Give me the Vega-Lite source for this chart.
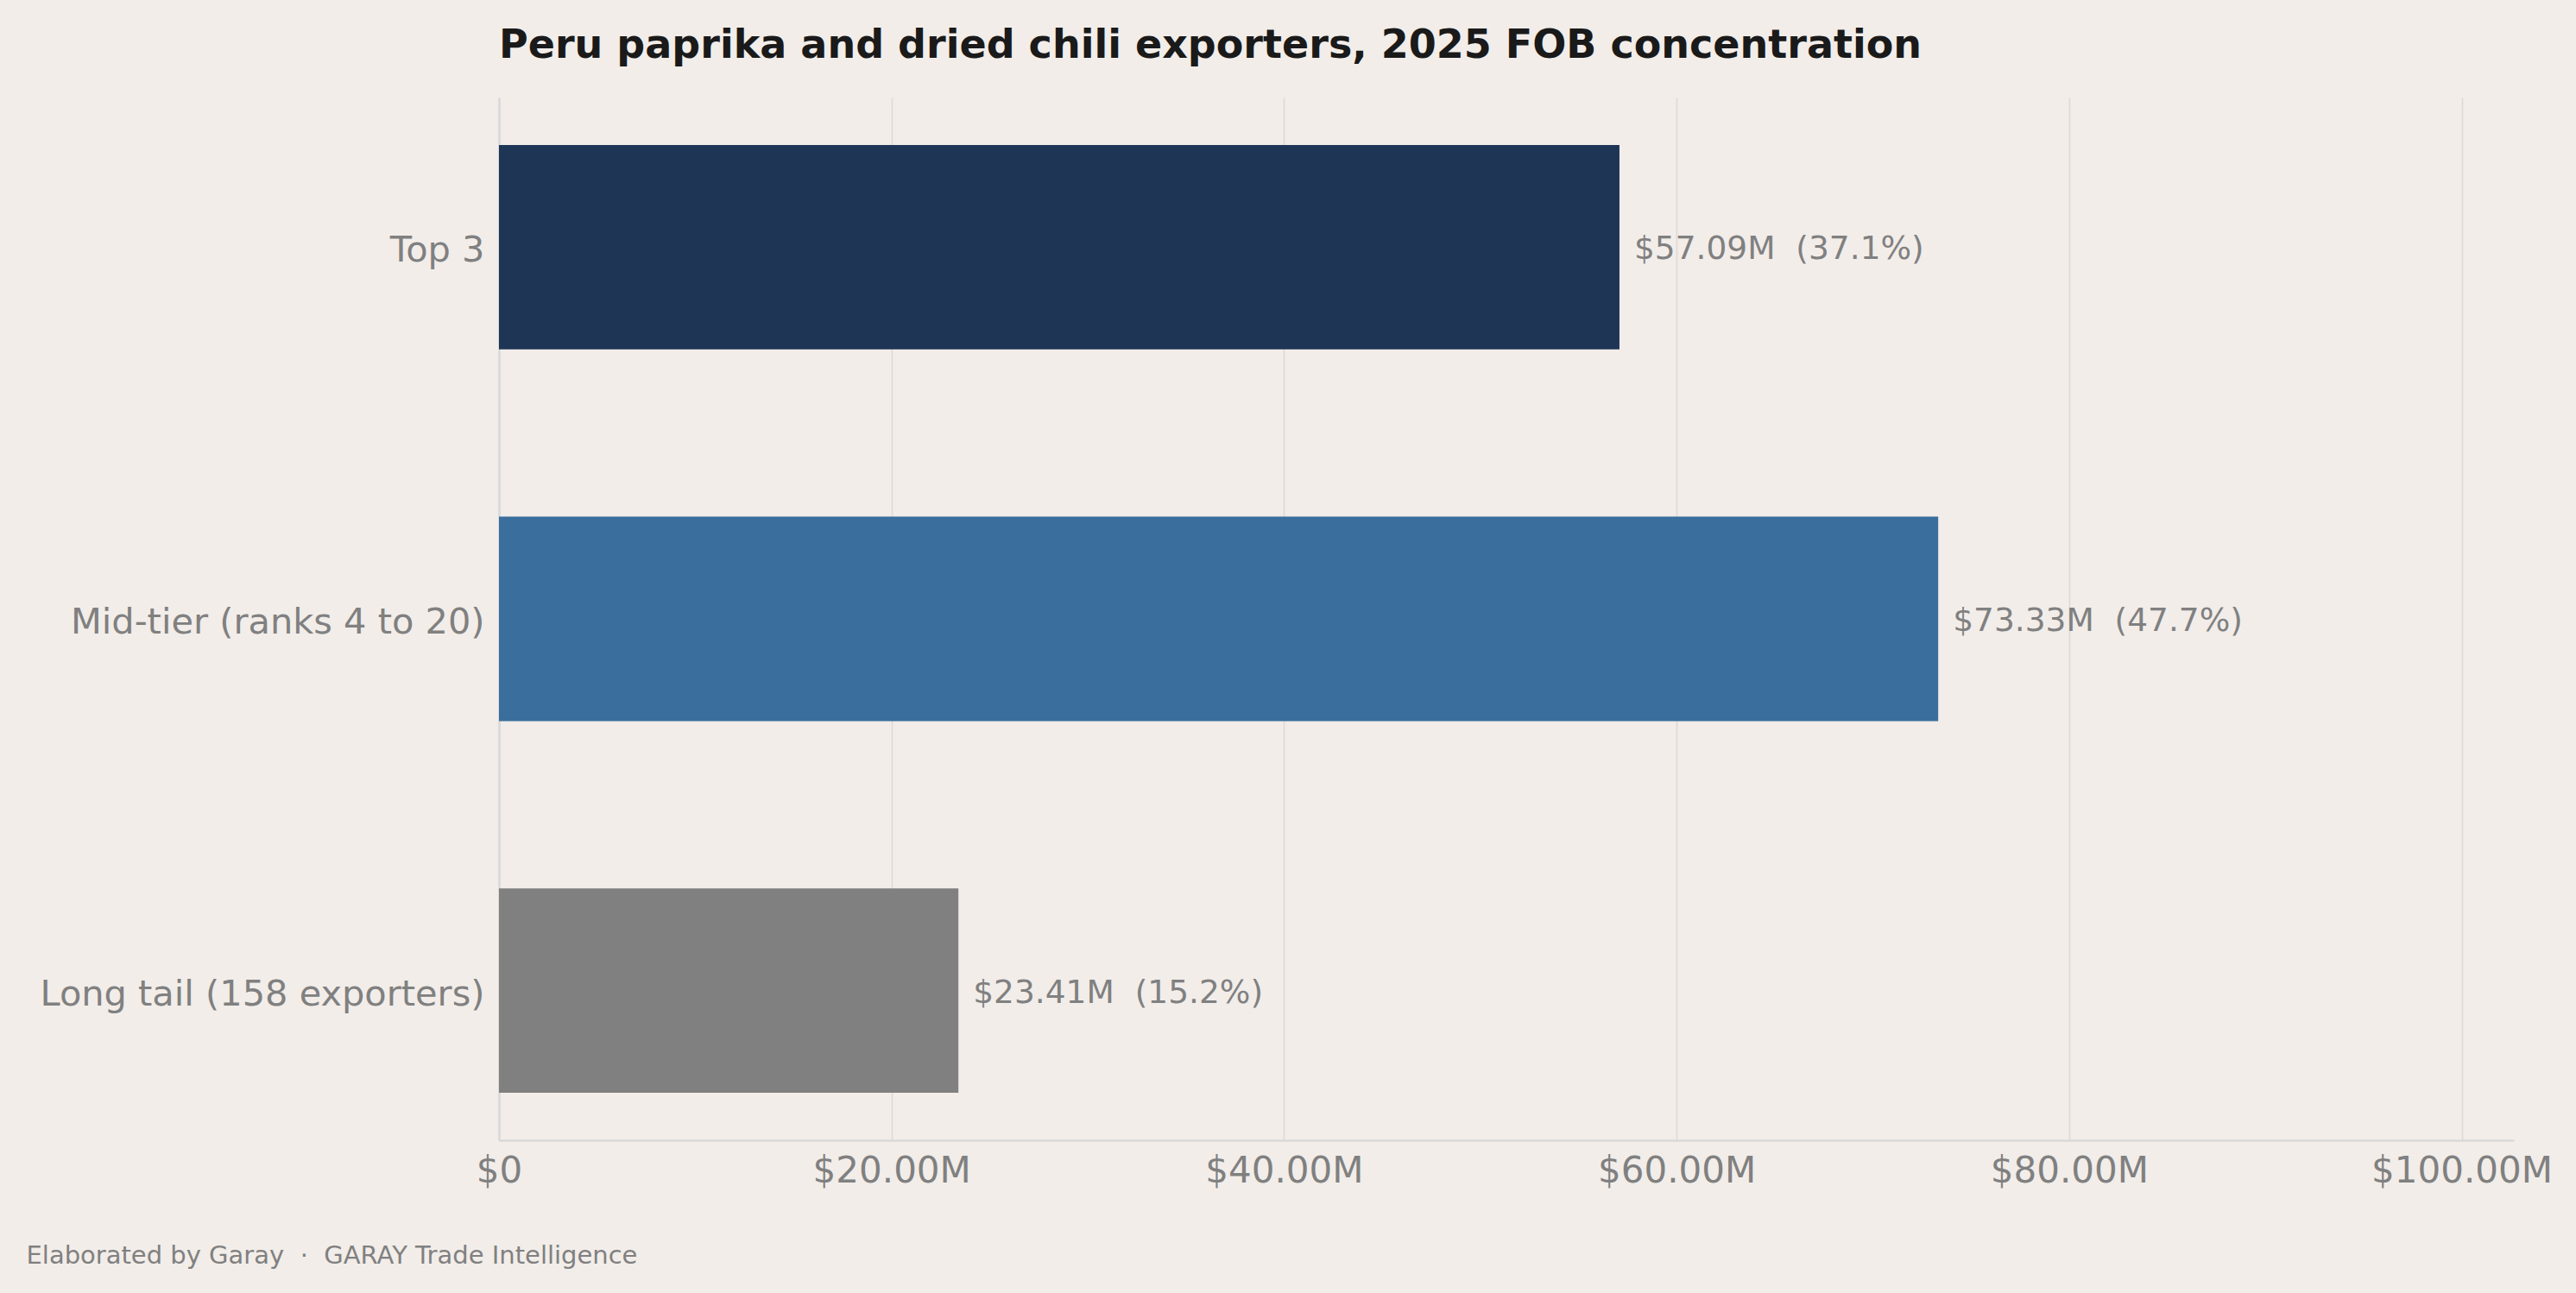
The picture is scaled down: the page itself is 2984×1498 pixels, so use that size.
{
  "$schema": "https://vega.github.io/schema/vega-lite/v6.json",
  "autosize": {"type": "none"},
  "padding": {"left": 578, "top": 113, "right": 72, "bottom": 177},
  "width": 2334,
  "height": 1208,
  "background": "#f2ede9",
  "title": {
    "text": "Peru paprika and dried chili exporters, 2025 FOB concentration",
    "anchor": "start",
    "frame": "group",
    "baseline": "alphabetic",
    "offset": 0,
    "font": "DejaVu Sans",
    "fontSize": 46,
    "fontWeight": "bold",
    "color": "#1a1a1a",
    "limit": 0
  },
  "data": {
    "values": [
      {"segment": "Top 3", "fob": 57.09, "share": 37.1, "label": "$57.09M \u00a0(37.1%)"},
      {"segment": "Mid-tier (ranks 4 to 20)", "fob": 73.33, "share": 47.7, "label": "$73.33M \u00a0(47.7%)"},
      {"segment": "Long tail (158 exporters)", "fob": 23.41, "share": 15.2, "label": "$23.41M \u00a0(15.2%)"}
    ]
  },
  "encoding": {
    "y": {
      "field": "segment",
      "type": "nominal",
      "sort": null,
      "title": null,
      "scale": {"paddingInner": 0.45, "paddingOuter": 0.1275},
      "axis": {
        "ticks": false,
        "labelPadding": 17,
        "labelOffset": 5,
        "labelFontSize": 41.5,
        "labelColor": "#808080",
        "labelFont": "DejaVu Sans",
        "labelLimit": 2000,
        "domainColor": "#d9d9d9",
        "domainWidth": 2.5,
        "grid": false
      }
    },
    "x": {
      "field": "fob",
      "type": "quantitative",
      "scale": {"domain": [0, 102.66], "nice": false},
      "axis": {
        "values": [0, 20, 40, 60, 80, 100],
        "labelExpr": "datum.value == 0 ? '$0' : '$' + format(datum.value, '.2f') + 'M'",
        "ticks": false,
        "labelPadding": 15,
        "labelFontSize": 42,
        "labelColor": "#808080",
        "labelFont": "DejaVu Sans",
        "labelLimit": 2000,
        "labelFlush": false,
        "labelOverlap": false,
        "domainColor": "#d9d9d9",
        "domainWidth": 2.5,
        "grid": true,
        "gridColor": "#dcdad7",
        "gridWidth": 1.6,
        "title": "Elaborated by Garay \u00a0\u00b7\u00a0 GARAY Trade Intelligence",
        "titleFont": "DejaVu Sans",
        "titleFontSize": 29,
        "titleFontWeight": "normal",
        "titleColor": "#808080",
        "titleAnchor": "start",
        "titleAlign": "left",
        "titleBaseline": "alphabetic",
        "titleLimit": 2000,
        "titleX": -548,
        "titleY": 142
      }
    }
  },
  "layer": [
    {
      "mark": {"type": "bar"},
      "encoding": {
        "color": {
          "field": "segment",
          "type": "nominal",
          "scale": {
            "domain": ["Top 3", "Mid-tier (ranks 4 to 20)", "Long tail (158 exporters)"],
            "range": ["#1e3556", "#3a6e9c", "#808080"]
          },
          "legend": null
        }
      }
    },
    {
      "mark": {
        "type": "text",
        "align": "left",
        "baseline": "middle",
        "dx": 17,
        "dy": 3,
        "font": "DejaVu Sans",
        "fontSize": 37.5,
        "color": "#808080"
      },
      "encoding": {"text": {"field": "label"}}
    }
  ],
  "config": {"view": {"stroke": null}}
}
